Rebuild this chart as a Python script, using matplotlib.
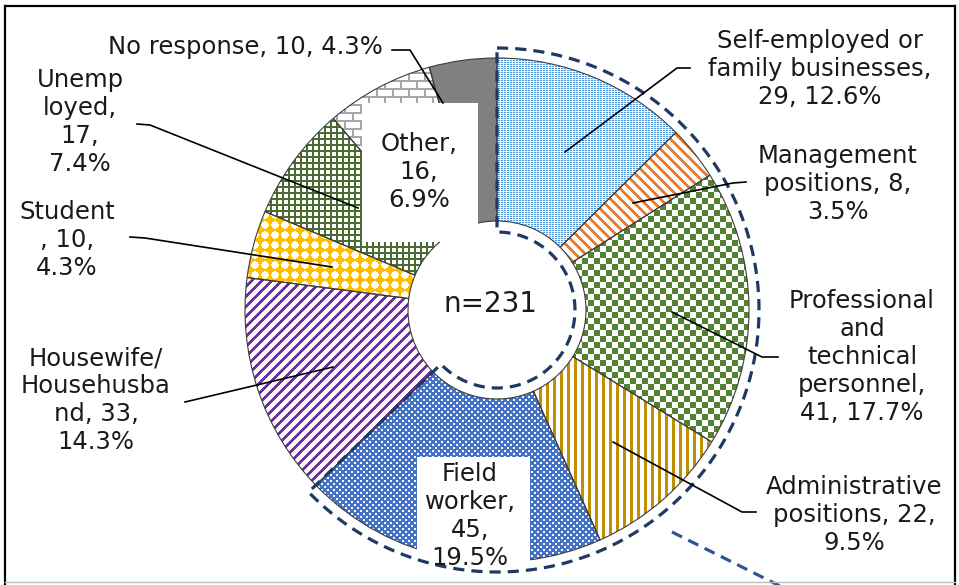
import numpy as np
import matplotlib
matplotlib.use("Agg")
import matplotlib.pyplot as plt
from matplotlib.colors import to_rgb
from matplotlib.patches import Rectangle

# ---------------- data ----------------
categories = ["Self-employed or family businesses", "Management positions",
              "Professional and technical personnel", "Administrative positions",
              "Field worker", "Housewife/Househusband", "Student", "Unemployed",
              "Other", "No response"]
values = [29, 8, 41, 22, 45, 33, 10, 17, 16, 10]
label_templates = [
    "Self-employed or\nfamily businesses,\n{v}, {p}%",
    "Management\npositions, {v},\n{p}%",
    "Professional\nand\ntechnical\npersonnel,\n{v}, {p}%",
    "Administrative\npositions, {v},\n{p}%",
    "Field\nworker,\n{v},\n{p}%",
    "Housewife/\nHousehusba\nnd, {v},\n{p}%",
    "Student\n, {v},\n{p}%",
    "Unemp\nloyed,\n{v},\n{p}%",
    "Other,\n{v},\n{p}%",
    "No response, {v}, {p}%",
]
n_employed = 5          # first five categories are enclosed by the dashed outline
total = sum(values)

# ---------------- layout (image pixel coords, y down) ----------------
W, H = 959, 585
CX, CY = 497, 310
R_OUT, R_IN = 252, 89

def P(x, y):
    return (x, H - y)

fig = plt.figure(figsize=(W / 100, H / 100), dpi=100)
ax = fig.add_axes([0, 0, 1, 1])

wedges, _ = ax.pie(values, startangle=90, counterclock=False, center=P(CX, CY),
                   radius=R_OUT,
                   wedgeprops=dict(width=R_OUT - R_IN, facecolor="none",
                                   edgecolor="#3c3c3c", linewidth=0.8))
for w in wedges:
    w.set_zorder(2)

# ---------------- textures ----------------
I, J = np.mgrid[0:H, 0:W]

def tex(mask, fg, bg="white"):
    fg = np.array(to_rgb(fg)); bg = np.array(to_rgb(bg))
    return np.where(mask[..., None], fg, bg)

def texture(k):
    if k == 0:   # light blue fine dots
        m = ((J % 3 != 2) & (I % 2 == 0))
        return tex(m, "#4a96de", "#f2f7fc")
    if k == 1:   # orange back-diagonal stripes
        m = ((J - I) % 10) < 4
        return tex(m, "#ED7D31")
    if k == 2:   # green checkerboard
        m = ((I // 6 + J // 6) % 2) == 0
        return tex(m, "#548235")
    if k == 3:   # gold vertical stripes
        m = (J % 7) < 3
        return tex(m, "#BF9000")
    if k == 4:   # blue with staggered white dots
        a, b = I % 6, J % 6
        m = ((a < 2) & (b < 2)) | ((a >= 3) & (a < 5) & (b >= 3) & (b < 5))
        return tex(m, "#f4f7fc", "#4472C4")
    if k == 5:   # purple diagonal stripes
        m = ((J + I) % 10) < 4
        return tex(m, "#7030A0")
    if k == 6:   # yellow with white circles
        p = 10
        dx = (J % p) - p / 2 + 0.5
        dy = (I % p) - p / 2 + 0.5
        m = (dx ** 2 + dy ** 2) > 3.7 ** 2
        return tex(m, "#FFC000")
    if k == 7:   # green grid
        m = ((I % 6) < 2) | ((J % 6) < 2)
        return tex(m, "#4a6b30")
    if k == 8:   # gray bricks
        row = I // 8
        m = ((I % 8) < 1.5) | (((J + (row % 2) * 8) % 16) < 1.5)
        return tex(m, "#a6a6a6")
    return tex(np.ones_like(I, dtype=bool), "#808080")

for k, w in enumerate(wedges):
    im = ax.imshow(texture(k), extent=(0, W, 0, H), origin="upper",
                   interpolation="nearest", zorder=1)
    im.set_clip_path(w)

# ---------------- white boxes inside ring ----------------
ax.add_patch(Rectangle(P(362, 242), 116, 139, facecolor="white", edgecolor="none", zorder=3))
ax.add_patch(Rectangle(P(417, 585), 113, 585 - 457, facecolor="white", edgecolor="none", zorder=3))

# ---------------- dashed outline around employed group ----------------
cum = np.cumsum(values)
a0 = 90.0
a1 = 90.0 - 360.0 * cum[n_employed - 1] / total
ro, ri = 262, 78
t_out = np.radians(np.linspace(a0, a1, 300))
t_in = np.radians(np.linspace(a1, a0, 200))
cx, cy = P(CX, CY)
xs = np.concatenate([cx + ro * np.cos(t_out), cx + ri * np.cos(t_in), [cx + ro * np.cos(t_out[0])]])
ys = np.concatenate([cy + ro * np.sin(t_out), cy + ri * np.sin(t_in), [cy + ro * np.sin(t_out[0])]])
ax.plot(xs, ys, color="#1F3864", lw=2.3, linestyle=(0, (3.5, 2.2)), zorder=4,
        solid_capstyle="butt", dash_capstyle="butt")
# connector towards a detail chart
x0, y0 = P(672, 532); x1, y1 = P(792, 592)
ax.plot([x0, x1], [y0, y1], color="#2F5597", lw=2.3, linestyle=(0, (3.5, 2.2)), zorder=4)

# ---------------- leader lines ----------------
leaders = [
    [(565, 152), (677, 68), (690, 68)],
    [(633, 203), (733, 183), (746, 182)],
    [(672, 312), (762, 357), (778, 357)],
    [(613, 442), (742, 512), (756, 512)],
    None,
    [(333, 367), (185, 402)],
    [(130, 237), (145, 238), (332, 267)],
    [(137, 124), (150, 125), (358, 208)],
    None,
    [(392, 50), (410, 50), (443, 103)],
]
for pts in leaders:
    if pts:
        px = [p[0] for p in pts]; py = [H - p[1] for p in pts]
        ax.plot(px, py, color="black", lw=1.2, zorder=5)

# ---------------- labels ----------------
label_pos = [(820, 69), (838, 184), (862, 357), (854, 515), (470, 516),
             (96, 400), (67, 240), (80, 122), (419, 172), (245, 47)]
for k, v in enumerate(values):
    p = f"{100 * v / total:.1f}"
    s = label_templates[k].format(v=v, p=p)
    ax.text(*P(*label_pos[k]), s, ha="center", va="center", multialignment="center",
            fontsize=17.5, family="DejaVu Sans", color="#1a1a1a", linespacing=1.21, zorder=6)

ax.text(*P(490, 304), f"n={total}", ha="center", va="center", fontsize=20,
        family="DejaVu Sans", color="#1a1a1a", zorder=6)

# ---------------- frame ----------------
ax.plot([5, 5], [0, H - 6], color="black", lw=1.6, zorder=7)
ax.plot([5, 955], [H - 6, H - 6], color="black", lw=1.6, zorder=7)
ax.plot([955, 955], [0, H - 6], color="black", lw=1.6, zorder=7)
ax.plot([5, 955], [H - 582, H - 582], color="#c0c0c0", lw=1.0, zorder=7)

ax.set_xlim(0, W)
ax.set_ylim(0, H)
ax.set_aspect("equal")
ax.axis("off")
fig.savefig("out.png", dpi=100)
